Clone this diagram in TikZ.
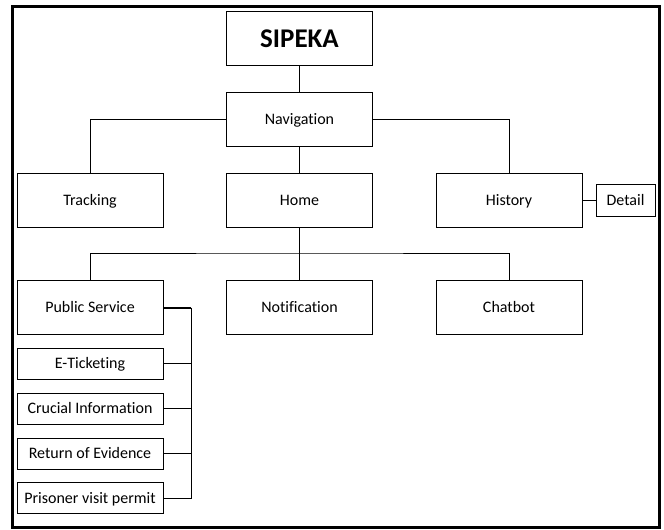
\documentclass[tikz,border=0pt]{standalone}
\usepackage{fontspec}
\setmainfont{Carlito}[Ligatures={NoCommon}]
\usetikzlibrary{positioning,calc}
\tikzset{
  box/.style={draw, line width=1pt, inner sep=0pt, minimum width=146pt,
    minimum height=54pt, text height=10.5pt, text depth=-1pt,
    font=\fontsize{16}{19}\selectfont},
  subbox/.style={box, minimum height=31pt},
}
\begin{document}
\begin{tikzpicture}[x=1pt,y=-1pt,line width=1pt]
  \useasboundingbox (0,0) rectangle (664,530);
  \draw[line width=3pt] (12,6) rectangle (659,527);
  % top of the tree
  \node[box, text height=17pt, text depth=0pt, font=\fontsize{27}{32}\selectfont\bfseries] (sipeka) at (299.5,38.5) {SIPEKA};
  \node[box] (nav) at (299.5,119.5) {Navigation};
  \node[box] (track) at (90,200) {Tracking};
  \node[box] (home) at (299.5,200) {Home};
  \node[box] (hist) at (509,200) {History};
  \node[subbox, minimum width=59pt, minimum height=32pt] (detail) at (625.5,200) {Detail};
  \node[box] (pub) at (90,307.5) {Public Service};
  \node[box] (notif) at (299.5,307.5) {Notification};
  \node[box] (chat) at (509,307.5) {Chatbot};
  % sub menu of public service
  \foreach \t/\y[count=\i] in {E-Ticketing/363.5, Crucial Information/408.5,
      Return of Evidence/453.5, Prisoner visit permit/498} {
    \node[subbox] (sub\i) at (90,\y) {\t};
  }
  \coordinate (bus) at (191,307.5);
  \coordinate (split) at (299.5,253);
  \draw (sipeka) -- (nav);
  \draw (track.north) |- (nav.west);
  \draw (nav.east) -| (hist.north);
  \draw (nav) -- (home);
  \draw (hist) -- (detail);
  \draw (home.south) -- (notif.north);
  \draw (pub.north) |- (split) -| (chat.north);
  \draw[line width=2pt] (pub.east) -- (bus);
  \draw (bus) |- (sub4.east);
  \foreach \i in {1,2,3} {
    \draw (sub\i.east) -- (sub\i.east -| bus);
  }
\end{tikzpicture}
\end{document}
